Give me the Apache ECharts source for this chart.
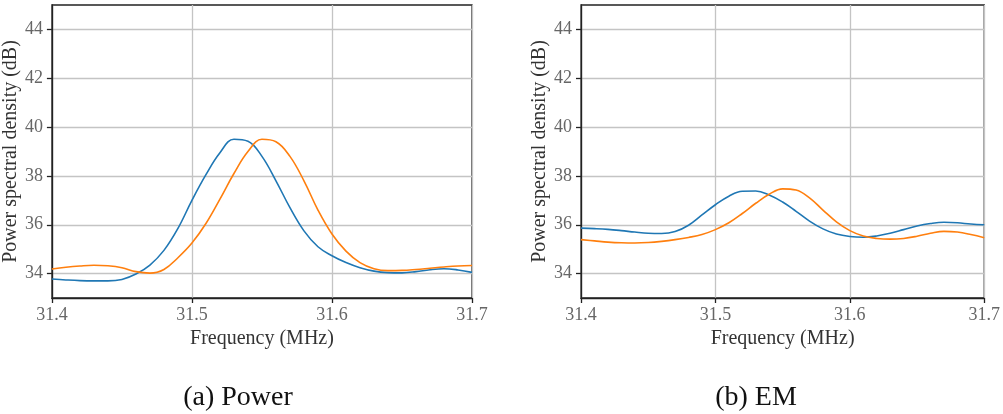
<!DOCTYPE html>
<html>
<head>
<meta charset="utf-8">
<script src="https://cdn.jsdelivr.net/npm/echarts@6/dist/echarts.min.js"></script>
<style>
html,body{margin:0;padding:0;background:#fff;}
#chart{width:1003px;height:414px;}
</style>
</head>
<body>
<div id="chart"></div>
<script>
const freq = [31.40,31.41,31.42,31.43,31.44,31.45,31.46,31.47,31.48,31.49,31.50,31.51,31.52,31.53,31.54,31.55,31.56,31.57,31.58,31.59,31.60,31.61,31.62,31.63,31.64,31.65,31.66,31.67,31.68,31.69,31.70];
const powerBlue = [33.78,33.74,33.71,33.70,33.70,33.76,33.98,34.35,34.95,35.85,37.0,38.05,38.95,39.5,39.42,38.8,37.8,36.7,35.75,35.1,34.73,34.45,34.24,34.1,34.04,34.03,34.08,34.16,34.2,34.15,34.05];
const powerOrange = [34.19,34.26,34.31,34.34,34.32,34.24,34.08,34.02,34.17,34.65,35.25,36.05,37.05,38.1,39.0,39.5,39.4,38.8,37.8,36.6,35.62,34.92,34.45,34.2,34.12,34.13,34.17,34.22,34.27,34.31,34.33];
const emBlue = [35.86,35.84,35.81,35.76,35.7,35.65,35.64,35.72,35.98,36.4,36.82,37.17,37.37,37.38,37.22,36.93,36.55,36.15,35.83,35.62,35.52,35.49,35.54,35.65,35.8,35.95,36.05,36.1,36.08,36.03,36.0];
const emOrange = [35.39,35.34,35.29,35.26,35.25,35.27,35.32,35.39,35.48,35.6,35.8,36.08,36.46,36.88,37.25,37.47,37.42,37.1,36.6,36.12,35.76,35.54,35.44,35.41,35.44,35.53,35.65,35.73,35.7,35.6,35.47];
const yTicks = [34,36,38,40,42,44];
const yLabel = 'Power spectral density (dB)';
const xLabel = 'Frequency (MHz)';
const captions = ['(a) Power','(b) EM'];

const FONT = '"Liberation Serif", "DejaVu Serif", serif';
const BLUE = '#1f77b4', ORANGE = '#ff7f0e';
const pairs = (xs, ys) => xs.map((x, i) => [x, ys[i]]);

const grids = [
  {left: 49, top: 5, width: 423, height: 293},
  {left: 581, top: 5, width: 409, height: 293}
];

function xAxisFor(i) {
  return {
    type: 'value', gridIndex: i, min: 31.4, max: 31.7, interval: 0.1,
    name: xLabel, nameLocation: 'middle', nameGap: 28,
    nameTextStyle: {fontFamily: FONT, fontSize: 20, color: '#333'},
    axisLine: {show: true, onZero: false, lineStyle: {color: '#222', width: 1.3}},
    axisTick: {show: true, inside: false, length: 5, lineStyle: {color: '#222', width: 1.3}},
    axisLabel: {fontFamily: FONT, fontSize: 18, color: '#666', margin: 8,
      formatter: v => v.toFixed(1), showMinLabel: true, showMaxLabel: true},
    splitLine: {show: true, lineStyle: {color: '#c4c4c4', width: 1.3}}
  };
}
function yAxisFor(i) {
  return {
    type: 'value', gridIndex: i, min: 33, max: 45,
    name: yLabel, nameLocation: 'middle', nameGap: 29, nameRotate: 90,
    nameTextStyle: {fontFamily: FONT, fontSize: 20, color: '#333'},
    axisLine: {show: true, lineStyle: {color: '#222', width: 1.3}},
    axisTick: {show: true, inside: false, length: 5, customValues: yTicks, lineStyle: {color: '#222', width: 1.3}},
    axisLabel: {fontFamily: FONT, fontSize: 18, color: '#666', margin: 9, customValues: yTicks},
    splitLine: {show: true, lineStyle: {color: '#c4c4c4', width: 1.3}}
  };
}
function line(gi, ys, color) {
  return {
    type: 'line', xAxisIndex: gi, yAxisIndex: gi, data: pairs(freq, ys),
    smooth: 0.4, showSymbol: false, symbol: 'none',
    lineStyle: {color: color, width: 1.6}, itemStyle: {color: color}
  };
}

const chart = echarts.init(document.getElementById('chart'), null, {renderer: 'canvas'});
chart.setOption({
  animation: false,
  backgroundColor: '#fff',
  grid: grids.map(g => Object.assign({show: true, borderColor: '#222', borderWidth: 1.3, backgroundColor: 'transparent'}, g)),
  xAxis: [xAxisFor(0), xAxisFor(1)],
  yAxis: [yAxisFor(0), yAxisFor(1)],
  title: [
    {text: captions[0], left: 233, top: 379, textAlign: 'center',
     textStyle: {fontFamily: FONT, fontSize: 28, fontWeight: 'normal', color: '#111'}},
    {text: captions[1], left: 751, top: 379, textAlign: 'center',
     textStyle: {fontFamily: FONT, fontSize: 28, fontWeight: 'normal', color: '#111'}}
  ],
  series: [
    line(0, powerBlue, BLUE), line(0, powerOrange, ORANGE),
    line(1, emBlue, BLUE), line(1, emOrange, ORANGE)
  ]
});
</script>
</body>
</html>
